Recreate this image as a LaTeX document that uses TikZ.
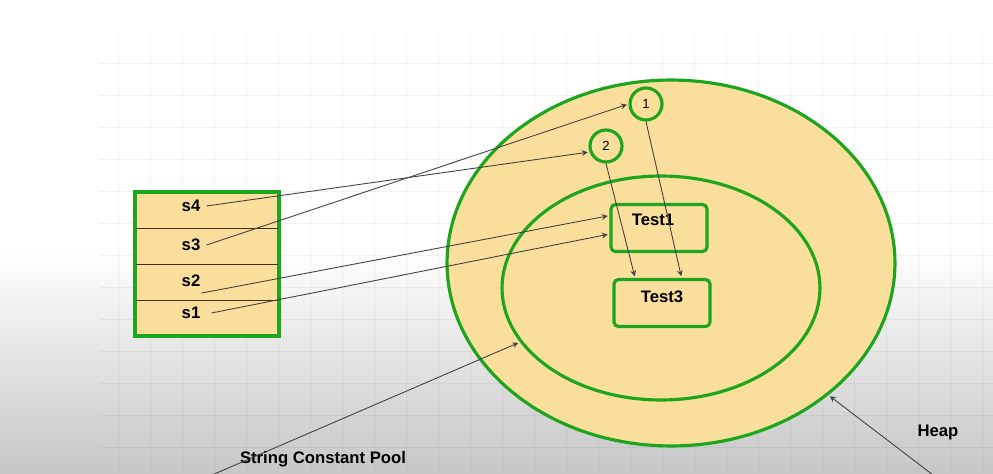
\documentclass[tikz,border=0pt]{standalone}
\usepackage{fontspec}
\setsansfont{Liberation Sans}
\usetikzlibrary{shapes.geometric}
\definecolor{poolgreen}{RGB}{30,165,30}
\definecolor{poolfill}{RGB}{250,222,156}
\begin{document}
\begin{tikzpicture}[x=0.02cm, y=-0.02cm, >=stealth,
		font=\sffamily\bfseries\fontsize{9.5}{11}\selectfont,
		region/.style={ellipse, draw=poolgreen, line width=1.8pt, fill=poolfill, inner sep=0pt},
		objbox/.style={rectangle, rounded corners=2.5pt, draw=poolgreen, line width=1.8pt, fill=poolfill,
			minimum width=1.92cm, minimum height=0.94cm},
		obj/.style={circle, draw=poolgreen, line width=1.8pt, fill=poolfill, minimum size=0.64cm, inner sep=0pt,
			font=\sffamily\fontsize{7.5}{9}\selectfont},
		ref/.style={->, draw=black!75, line width=0.5pt, shorten >=1pt},
		gridline/.style={draw=black, draw opacity=0.05, line width=0.3pt}]
		\useasboundingbox (0,0) rectangle (993,473);
		\clip (0,0) rectangle (993,473);
		% background of the page
		\fill[white] (0,0) rectangle (993,473);
		\shade[top color=white, bottom color=black!22] (0,250) rectangle (993,473);
		\foreach \x in {118,150,...,990} \draw[gridline] (\x,32) -- (\x,473);
		\foreach \y in {63,95,...,470} \draw[gridline] (100,\y) -- (993,\y);
		% heap and string constant pool
		\node[region, minimum width=8.96cm, minimum height=7.32cm] (heap) at (671,263) {};
		\node[region, minimum width=6.36cm, minimum height=4.48cm] (pool) at (661,288) {};
		% objects
		\node[obj] (c1) at (646,104) {1};
		\node[obj] (c2) at (606,146) {2};
		\node[objbox] (t1) at (659,228) {};
		\node[objbox] (t3) at (662,303) {};
		\node (t1txt) at (653,220) {Test1};
		\node (t3txt) at (662,297) {Test3};
		% stack
		\draw[draw=poolgreen, line width=1.8pt, fill=poolfill] (135,192) rectangle (279,336);
		\foreach \y in {228,264,300} \draw[black!65!brown, line width=0.5pt] (136,\y) -- (278,\y);
		\foreach \y/\lab in {206/s4, 245/s3, 281/s2, 313/s1} \node (\lab) at (191,\y) {\lab};
		% references
		\draw[ref] (s4.east) -- (c2.200);
		\draw[ref] (s3.east) -- (c1.180);
		\draw[ref] ([xshift=-0.1cm]s2.south east) -- (t1.166);
		\draw[ref] ([xshift=0.1cm]s1.east) -- (t1.187);
		\draw[ref] (c1.south) -- (t3.52);
		\draw[ref] (c2.south) -- (t3.137);
		% labels
		\node (poollab) at (323,459) {String Constant Pool};
		\node (heaplab) at (938,432) {Heap};
		\coordinate (poolfoot) at (205,478);
		\coordinate (heapfoot) at (937,478);
		\draw[ref] (poolfoot) -- (pool.201);
		\draw[ref] (heapfoot) -- (heap.320);
	\end{tikzpicture}
\end{document}
